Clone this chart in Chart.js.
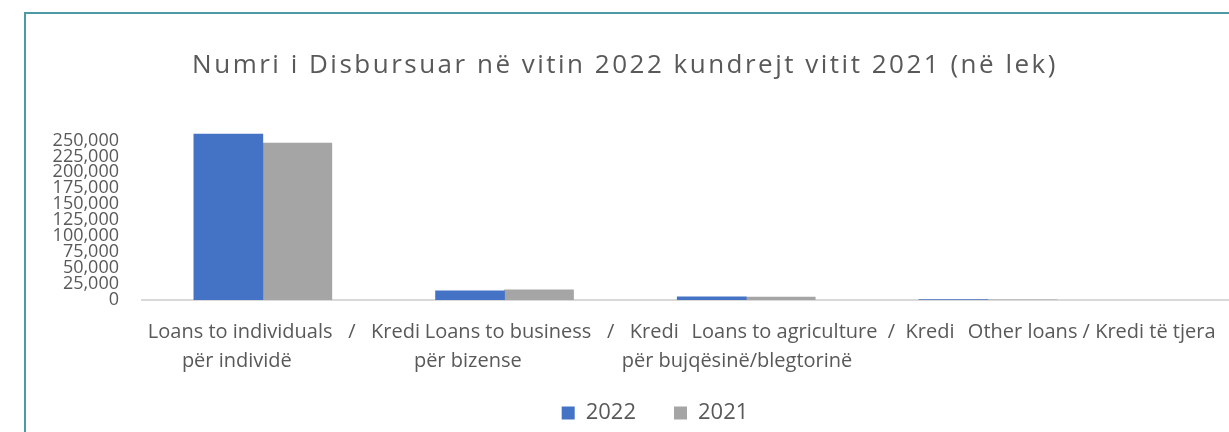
<!DOCTYPE html>
<html>
<head>
<meta charset="utf-8">
<script src="https://cdn.jsdelivr.net/npm/chart.js@4.4.1/dist/chart.umd.min.js"></script>
<style>
  html, body { margin: 0; padding: 0; background: #ffffff; overflow: hidden; width: 1229px; height: 432px; }
  #frame { position: absolute; left: 24px; top: 12px; width: 1300px; height: 440px; border: 2px solid #4d9aa7; background: #ffffff; }
  #c { position: absolute; left: 0; top: 0; }
</style>
</head>
<body>
<div id="frame"><canvas id="c" width="1258" height="420"></canvas></div>
<script>
// ---------- data ----------
const chartTitle = 'Numri i Disbursuar në vitin 2022 kundrejt vitit 2021 (në lek)';
const seriesNames = ['2022', '2021'];
const categoryIndex = [0, 1, 2, 3];
const values2022 = [260000, 14500, 4800, 500];
const values2021 = [246000, 16000, 4600, 400];
const yTicks = [0, 25000, 50000, 75000, 100000, 125000, 150000, 175000, 200000, 225000, 250000];
const xLabelLine1 = ['Loans to individuals   /   Kredi', 'Loans to business   /   Kredi', 'Loans to agriculture  /  Kredi', 'Other loans / Kredi të tjera'];
const xLabelLine2 = ['për individë', 'për bizense', 'për bujqësinë/blegtorinë', ''];

// ---------- layout / style ----------
const line1Anchor = [-0.476, 0.670, 1.774, 2.917];
const line2Anchor = [-0.335, 0.625, 1.485, null];
const textColor = '#595959';
Chart.defaults.font.family = "'Open Sans', sans-serif";
Chart.defaults.color = textColor;

const xTicks = [];
xLabelLine1.forEach((t, i) => { if (t) xTicks.push({ value: line1Anchor[i], label: [t] }); });
xLabelLine2.forEach((t, i) => { if (t) xTicks.push({ value: line2Anchor[i], label: ['', t] }); });
xTicks.sort((a, b) => a.value - b.value);

const titleStyle = {
  id: 'titleStyle',
  beforeDraw(chart) {
    const tb = chart.titleBlock;
    if (tb && !tb.__styled) {
      const orig = tb.draw;
      tb.draw = function () {
        const c = this.ctx;
        c.save();
        c.letterSpacing = '2.5px';
        c.translate(-30, 0);
        orig.apply(this, arguments);
        c.restore();
      };
      tb.__styled = true;
    }
  }
};

new Chart(document.getElementById('c'), {
  type: 'bar',
  data: {
    datasets: [
      { label: seriesNames[0], data: values2022.map((v, i) => ({ x: categoryIndex[i], y: v })), backgroundColor: '#4472C4', borderWidth: 0, barThickness: 69 },
      { label: seriesNames[1], data: values2021.map((v, i) => ({ x: categoryIndex[i], y: v })), backgroundColor: '#A5A5A5', borderWidth: 0, barThickness: 69 }
    ]
  },
  options: {
    responsive: false,
    animation: false,
    devicePixelRatio: 1,
    layout: { padding: 0 },
    scales: {
      x: {
        type: 'linear', min: -0.5, max: 4.225, offset: false,
        grid: { display: false, drawTicks: false },
        border: { display: true, color: '#d9d9d9', width: 2 },
        afterBuildTicks: (ax) => { ax.ticks = xTicks.map(t => ({ value: t.value })); },
        afterFit: (ax) => { ax.height = 64; ax._computeLabelArea = () => undefined; },
        ticks: {
          autoSkip: false, maxRotation: 0, minRotation: 0, align: 'start', padding: 17.5,
          font: { size: 20, lineHeight: 1.45 }, color: textColor,
          callback: (v, i) => (xTicks[i] ? xTicks[i].label : '')
        }
      },
      y: {
        type: 'linear', min: 0, max: 275000,
        grid: { display: false, drawTicks: false },
        border: { display: false },
        afterBuildTicks: (ax) => { ax.ticks = yTicks.map(v => ({ value: v })); },
        afterFit: (ax) => { ax.width = 116; },
        ticks: {
          autoSkip: false, padding: 23, font: { size: 18, lineHeight: 1 }, color: textColor,
          callback: (v) => Number(v).toLocaleString('en-US')
        }
      }
    },
    plugins: {
      title: {
        display: true, text: chartTitle, color: textColor,
        font: { size: 26, weight: 'normal', lineHeight: 1.2 },
        padding: { top: 35.7, bottom: 43.6 }
      },
      legend: {
        display: true, position: 'bottom',
        labels: { boxWidth: 13, boxHeight: 13, padding: 38, font: { size: 22 }, color: textColor }
      },
      tooltip: { enabled: false }
    }
  },
  plugins: [titleStyle]
});
</script>
</body>
</html>
